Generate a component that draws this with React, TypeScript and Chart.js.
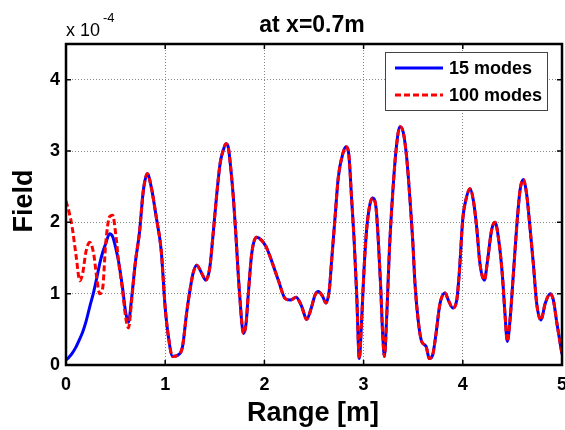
import React, { useEffect, useRef } from "react";
import { Chart, registerables } from "chart.js";

Chart.register(...registerables);

// near field (x < 0.7 m): the two series differ
const nearRange = [0, 0.03, 0.06, 0.1, 0.14, 0.17, 0.2, 0.24, 0.28, 0.31, 0.34, 0.37, 0.4, 0.44, 0.47, 0.5, 0.53, 0.57, 0.6, 0.63, 0.66];
const near15 = [0.07, 0.11, 0.16, 0.25, 0.37, 0.47, 0.6, 0.82, 1.03, 1.22, 1.42, 1.58, 1.7, 1.84, 1.8, 1.65, 1.45, 1.08, 0.75, 0.6, 0.92];
const near100 = [2.3, 2.15, 1.95, 1.55, 1.18, 1.3, 1.58, 1.72, 1.55, 1.22, 1.0, 1.08, 1.7, 2.08, 2.1, 1.85, 1.45, 1.05, 0.68, 0.52, 0.88];

// far field (x >= 0.7 m): both series coincide
const farRange = [
  0.7, 0.74, 0.78, 0.82, 0.86, 0.91, 0.96, 1.0, 1.03, 1.075,
  1.13, 1.175, 1.215, 1.25, 1.28, 1.317, 1.37, 1.41, 1.45, 1.48,
  1.52, 1.555, 1.585, 1.613, 1.636, 1.66, 1.687, 1.714, 1.747, 1.79,
  1.815, 1.838, 1.872, 1.92, 1.97, 2.02, 2.07, 2.14, 2.21, 2.26,
  2.32, 2.376, 2.426, 2.477, 2.51, 2.544, 2.588, 2.62, 2.654, 2.678,
  2.71, 2.745, 2.79, 2.823, 2.85, 2.88, 2.903, 2.93, 2.957, 2.98,
  3.004, 3.03, 3.065, 3.09, 3.125, 3.148, 3.172, 3.192, 3.21, 3.233,
  3.26, 3.293, 3.327, 3.367, 3.4, 3.434, 3.468, 3.495, 3.518, 3.55,
  3.585, 3.63, 3.662, 3.696, 3.73, 3.77, 3.82, 3.854, 3.898, 3.938,
  3.965, 4.0, 4.03, 4.073, 4.106, 4.14, 4.173, 4.217, 4.25, 4.29,
  4.325, 4.365, 4.4, 4.425, 4.449, 4.476, 4.51, 4.543, 4.577, 4.61,
  4.643, 4.677, 4.711, 4.745, 4.788, 4.83, 4.88, 4.913, 4.947, 5.0,
];
const farField = [
  1.45, 1.85, 2.45, 2.68, 2.49, 2.07, 1.6, 0.8, 0.42, 0.12,
  0.14, 0.26, 0.72, 1.05, 1.28, 1.4, 1.28, 1.19, 1.37, 1.79,
  2.4, 2.84, 3.01, 3.1, 3.05, 2.77, 2.35, 1.79, 1.05, 0.44,
  0.58, 1.0, 1.56, 1.79, 1.75, 1.65, 1.47, 1.19, 0.93, 0.91,
  0.95, 0.82, 0.64, 0.82, 0.98, 1.03, 0.96, 0.87, 1.05, 1.47,
  2.03, 2.63, 2.96, 3.06, 2.96, 2.31, 1.79, 1.0, 0.09, 0.63,
  1.33, 1.89, 2.26, 2.34, 2.21, 1.75, 1.1, 0.44, 0.12, 0.68,
  1.61, 2.4, 3.01, 3.34, 3.26, 2.91, 2.31, 1.75, 1.14, 0.63,
  0.33, 0.26, 0.09, 0.14, 0.44, 0.86, 1.01, 0.91, 0.8, 0.9,
  1.3, 2.05, 2.31, 2.47, 2.31, 1.93, 1.42, 1.19, 1.47, 1.89,
  2.0, 1.72, 1.24, 0.72, 0.33, 0.63, 1.28, 1.93, 2.45, 2.6,
  2.4, 1.93, 1.42, 0.86, 0.63, 0.86, 1.0, 0.91, 0.6, 0.15,
];

const xTicks = [0, 1, 2, 3, 4, 5];
const yTicks = [0, 1, 2, 3, 4];
const seriesLabels = ["15 modes", "100 modes"];
const titleText = "at x=0.7m";
const xTitle = "Range [m]";
const yTitle = "Field";
const exponentBase = "x 10";
const exponentPower = "-4";

const FONT = "'Liberation Sans', Arial, Helvetica, sans-serif";

const toPoints = (xs: number[], ys: number[]) => xs.map((x, i) => ({ x, y: ys[i] }));

const decorPlugin = {
  id: "decor",
  afterDraw(chart: any) {
    const { ctx, chartArea, scales } = chart;
    const { left, right, top, bottom } = chartArea;
    const xs = scales.x;
    const ys = scales.y;
    ctx.save();
    // inner tick marks
    ctx.strokeStyle = "#000";
    ctx.lineWidth = 1.5;
    ctx.beginPath();
    xTicks.forEach((v) => {
      const px = xs.getPixelForValue(v);
      ctx.moveTo(px, bottom);
      ctx.lineTo(px, bottom - 5);
      ctx.moveTo(px, top);
      ctx.lineTo(px, top + 5);
    });
    yTicks.forEach((v) => {
      const py = ys.getPixelForValue(v);
      ctx.moveTo(left, py);
      ctx.lineTo(left + 5, py);
      ctx.moveTo(right, py);
      ctx.lineTo(right - 5, py);
    });
    ctx.stroke();
    // frame
    ctx.lineWidth = 2.5;
    ctx.strokeRect(left, top, right - left, bottom - top);

    // legend
    const lx = 385, ly = 52, lw = 162, lh = 58;
    ctx.fillStyle = "#fff";
    ctx.fillRect(lx, ly, lw, lh);
    ctx.strokeStyle = "#444";
    ctx.lineWidth = 1;
    ctx.strokeRect(lx + 0.5, ly + 0.5, lw, lh);
    const ds = chart.data.datasets;
    const rows = [68, 95];
    rows.forEach((ry, i) => {
      const d = ds[i];
      ctx.strokeStyle = d.borderColor;
      ctx.lineWidth = 3;
      ctx.setLineDash(d.borderDash || []);
      ctx.beginPath();
      ctx.moveTo(395, ry);
      ctx.lineTo(443, ry);
      ctx.stroke();
      ctx.setLineDash([]);
      ctx.fillStyle = "#000";
      ctx.font = `bold 18px ${FONT}`;
      ctx.textAlign = "left";
      ctx.textBaseline = "middle";
      ctx.fillText(d.label, 449, ry + 1);
    });

    // title
    ctx.fillStyle = "#000";
    ctx.font = `bold 23px ${FONT}`;
    ctx.textAlign = "center";
    ctx.textBaseline = "alphabetic";
    ctx.fillText(titleText, 312, 32);

    // exponent
    ctx.font = `18px ${FONT}`;
    ctx.textAlign = "left";
    ctx.fillText(exponentBase, 66, 36);
    const w = ctx.measureText(exponentBase).width;
    ctx.font = `13px ${FONT}`;
    ctx.fillText(exponentPower, 66 + w + 3, 22);

    // axis titles
    ctx.font = `bold 27px ${FONT}`;
    ctx.textAlign = "center";
    ctx.fillText(xTitle, 313, 421);
    ctx.save();
    ctx.translate(32, 201);
    ctx.rotate(-Math.PI / 2);
    ctx.fillText(yTitle, 0, 0);
    ctx.restore();
    ctx.restore();
  },
};

export default function App() {
  const ref = useRef<HTMLCanvasElement | null>(null);
  useEffect(() => {
    if (!ref.current) return;
    const chart = new Chart(ref.current, {
      type: "line",
      data: {
        datasets: [
          {
            label: seriesLabels[0],
            data: toPoints([...nearRange, ...farRange], [...near15, ...farField]),
            borderColor: "#0000ff",
            borderWidth: 3,
            pointRadius: 0,
            fill: false,
            cubicInterpolationMode: "monotone",
            order: 1,
          },
          {
            label: seriesLabels[1],
            data: toPoints([...nearRange, ...farRange], [...near100, ...farField]),
            borderColor: "#ff0000",
            borderWidth: 3,
            borderDash: [6, 3],
            pointRadius: 0,
            fill: false,
            cubicInterpolationMode: "monotone",
            order: 0,
          },
        ],
      },
      options: {
        animation: false,
        responsive: false,
        maintainAspectRatio: false,
        layout: { padding: { left: 0, top: 44, right: 3, bottom: 0 } },
        plugins: {
          legend: { display: false },
          title: { display: false },
          tooltip: { enabled: false },
        },
        scales: {
          x: {
            type: "linear",
            min: 0,
            max: 5,
            afterBuildTicks: (s: any) => {
              s.ticks = xTicks.map((v) => ({ value: v }));
            },
            afterFit: (s: any) => {
              s.height = 65;
              s.paddingLeft = 0;
              s.paddingRight = 0;
            },
            ticks: {
              color: "#000",
              font: { family: FONT, size: 18, weight: "bold" },
              padding: 9,
              maxRotation: 0,
              autoSkip: false,
            },
            grid: { color: "#888", lineWidth: 1, drawTicks: false },
            border: { display: false, dash: [1, 2] },
          },
          y: {
            type: "linear",
            min: 0,
            max: 4.5,
            afterBuildTicks: (s: any) => {
              s.ticks = yTicks.map((v) => ({ value: v }));
            },
            afterFit: (s: any) => {
              s.width = 66;
              s.paddingTop = 0;
              s.paddingBottom = 0;
            },
            ticks: {
              color: "#000",
              font: { family: FONT, size: 18, weight: "bold" },
              padding: 6,
              autoSkip: false,
            },
            grid: { color: "#888", lineWidth: 1, drawTicks: false },
            border: { display: false, dash: [1, 2] },
          },
        },
      },
      plugins: [decorPlugin],
    });
    return () => chart.destroy();
  }, []);
  return (
    <div style={{ position: "absolute", left: 0, top: 0, width: 565, height: 430, background: "#fff" }}>
      <canvas ref={ref} width={565} height={430} style={{ display: "block" }} />
    </div>
  );
}
